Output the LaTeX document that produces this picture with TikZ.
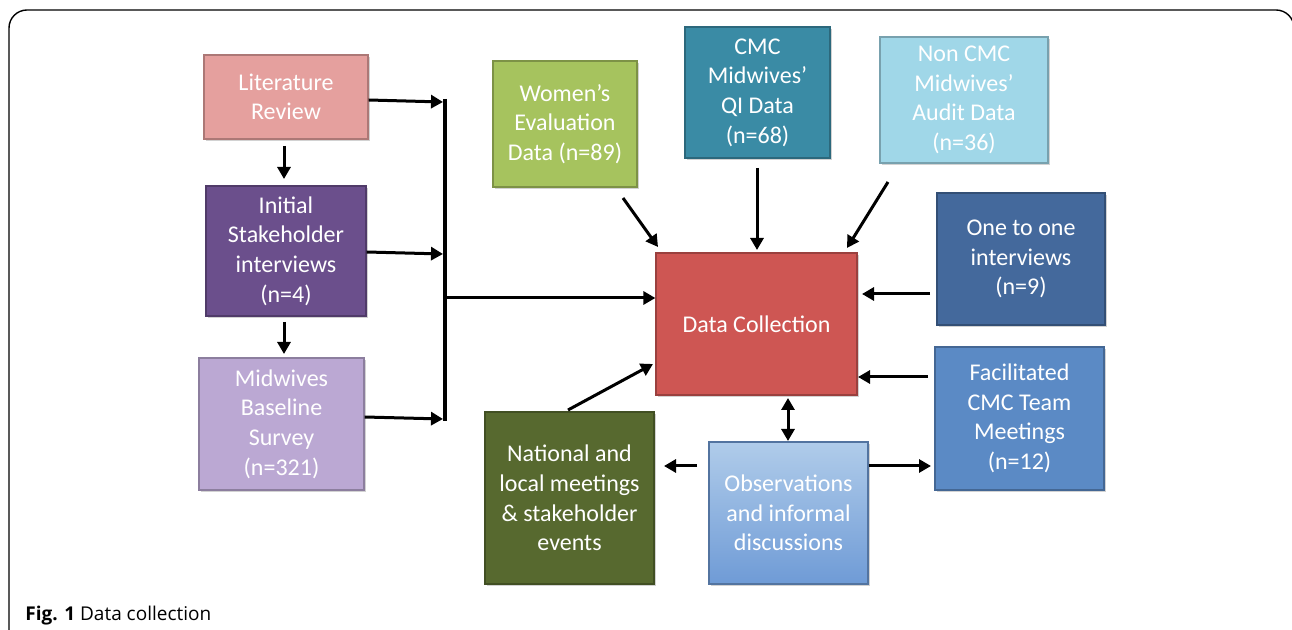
\documentclass[tikz,border=0pt]{standalone}
\usepackage{fontspec}
\setmainfont{Carlito}
\newfontfamily\capfont{Open Sans}
\usetikzlibrary{arrows.meta,shadows}
\definecolor{clit}{HTML}{E5A09E}
\definecolor{cinit}{HTML}{6B4F8C}
\definecolor{cmid}{HTML}{BBA8D3}
\definecolor{cwom}{HTML}{A6C35E}
\definecolor{ccmc}{HTML}{3A8BA5}
\definecolor{cnon}{HTML}{A0D7E8}
\definecolor{cone}{HTML}{44699C}
\definecolor{cdc}{HTML}{CE5653}
\definecolor{cfac}{HTML}{5B8AC5}
\definecolor{cobsT}{HTML}{B0CCEA}
\definecolor{cobsB}{HTML}{6F9BD6}
\definecolor{cnat}{HTML}{57692F}
\tikzset{
  box/.style={draw=#1!75!black, line width=0.6pt, fill=#1, text=white, align=center,
     font=\fontsize{12}{14.8}\selectfont, inner sep=2pt,
     drop shadow={shadow xshift=1.2pt, shadow yshift=-1.2pt, opacity=0.35}},
  arr/.style={line width=1.5pt, -{Triangle[length=6pt,width=6.5pt]}},
  darr/.style={line width=1.5pt, {Triangle[length=6pt,width=6.5pt]}-{Triangle[length=6pt,width=6.5pt]}},
  bar/.style={line width=1.9pt}
}
\newcommand\bx[7]{%
  \node[box=#6, minimum width={(#4-#2)*0.5pt}, minimum height={(#5-#3)*0.5pt}]
    (#1) at ({(#2+#4)/2},{(#3+#5)/2}) {#7};}
\begin{document}
\begin{tikzpicture}[x=0.5pt,y=-0.5pt]
\useasboundingbox (0,0) rectangle (1292,630);
\clip (0,0) rectangle (1292,630);
\fill[white] (0,0) rectangle (1292,630);
\draw[line width=0.7pt, rounded corners=9pt] (9,10) rectangle (1294,660);
% boxes
\bx{lit}{204}{55}{368}{139}{clit}{Literature\\Review}
\bx{init}{206}{186}{366}{316}{cinit}{Initial\\Stakeholder\\interviews\\(n=4)}
\bx{mid}{199}{358}{364}{490}{cmid}{Midwives\\Baseline\\Survey\\(n=321)}
\bx{wom}{493}{61}{637}{187}{cwom}{Women’s\\Evaluation\\Data (n=89)}
\bx{cmc}{685}{27}{830}{158}{ccmc}{CMC\\Midwives’\\QI Data\\(n=68)}
\bx{non}{880}{37}{1048}{163}{cnon}{Non CMC\\Midwives’\\Audit Data\\(n=36)}
\bx{one}{937}{193}{1105}{325}{cone}{One to one\\interviews\\(n=9)}
\bx{dc}{656}{253}{857}{395}{cdc}{Data Collection}
\bx{fac}{935}{347}{1104}{490}{cfac}{Facilitated\\CMC Team\\Meetings\\(n=12)}
\bx{nat}{485}{412}{654}{584}{cnat}{National and\\local meetings\\\&\ stakeholder\\events}
\node[box=cobsB, top color=cobsT, bottom color=cobsB, minimum width={(868-709)*0.5pt}, minimum height={(584-442)*0.5pt}]
  (obs) at ({(709+868)/2},{(442+584)/2}) {Observations\\and informal\\discussions};
% junction bar
\coordinate (bt) at (445,99);
\coordinate (bb) at (445,421);
\coordinate (bm) at (445,298);
\draw[bar] (bt) -- (bb);
\draw[arr] (lit.east |- 0,100) -- (443,102);
\draw[arr] (init.east |- 0,252) -- (443,254);
\draw[arr] (mid.east |- 0,417) -- (443,419);
\draw[arr] (bm) -- (dc.west |- bm);
\coordinate (la) at (284,146);
\coordinate (lb) at (284,179);
\draw[arr] (la) -- (lb);
\coordinate (ia) at (284,322);
\coordinate (ib) at (284,354);
\draw[arr] (ia) -- (ib);
% top inputs
\coordinate (w1) at (623,198);
\draw[arr] (w1) -- (658,247);
\coordinate (c1) at (757,168);
\draw[arr] (c1) -- (757,250);
\coordinate (n1) at (888,182);
\draw[arr] (n1) -- (847,248);
% right inputs
\coordinate (o1) at (930,294);
\draw[arr] (o1) -- (862,294);
\coordinate (f1) at (928,377);
\draw[arr] (f1) -- (858,377);
% bottom
\draw[darr] (788,398) -- (788,441);
\coordinate (ob1) at (697,466);
\draw[arr] (ob1) -- (664,466);
\draw[arr] (obs.east |- 0,466) -- (931,466);
\coordinate (na1) at (568,410);
\draw[arr] (na1) -- (653,364);
% caption
\node[anchor=base west, inner sep=0pt, font=\capfont\fontsize{9.5}{11}\selectfont] (cap) at (25,621) {\textbf{Fig. 1} Data collection};
\end{tikzpicture}
\end{document}
